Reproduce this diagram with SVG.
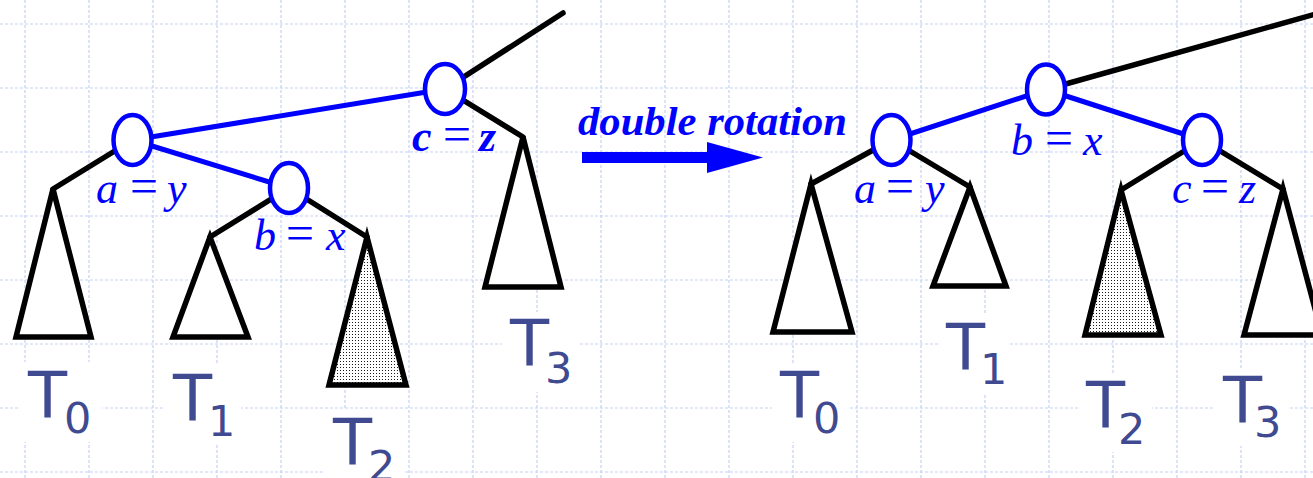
<svg xmlns="http://www.w3.org/2000/svg" width="1313" height="478" viewBox="0 0 1313 478">
<defs>
<pattern id="dots" width="3" height="3" patternUnits="userSpaceOnUse">
<rect width="3" height="3" fill="#ffffff"/>
<rect x="1" y="1" width="1" height="1" fill="#1a1a1a"/>
</pattern>
<style>
.grid line{stroke:#c6d1f6;stroke-width:1.2;stroke-dasharray:3 2}
.blk{stroke:#000;stroke-width:5.5;fill:none;stroke-linecap:round}
.blu{stroke:#0000ff;stroke-width:5;fill:none}
.tri{stroke:#000;stroke-width:5.5;fill:#fff;stroke-linejoin:miter}
.tri2{stroke:#000;stroke-width:5.5;fill:url(#dots);stroke-linejoin:miter}
.node{stroke:#0000ff;stroke-width:4.5;fill:#fff}
.lbl{font-family:"Liberation Serif",serif;font-style:italic;font-size:44px;fill:#0000ff}
.eq{font-style:normal;font-weight:normal;font-size:50px}
.tl{font-family:"DejaVu Sans",sans-serif;font-size:64px;fill:#3f4a90}
.sub{font-size:43px}
.bg{fill:#fff}
</style>
</defs>
<rect width="1313" height="478" fill="#ffffff"/>
<g class="grid">
<line x1="25" y1="0" x2="25" y2="478"/><line x1="89" y1="0" x2="89" y2="478"/><line x1="153" y1="0" x2="153" y2="478"/><line x1="217" y1="0" x2="217" y2="478"/><line x1="281" y1="0" x2="281" y2="478"/><line x1="345" y1="0" x2="345" y2="478"/><line x1="409" y1="0" x2="409" y2="478"/><line x1="473" y1="0" x2="473" y2="478"/><line x1="537" y1="0" x2="537" y2="478"/><line x1="601" y1="0" x2="601" y2="478"/><line x1="665" y1="0" x2="665" y2="478"/><line x1="729" y1="0" x2="729" y2="478"/><line x1="793" y1="0" x2="793" y2="478"/><line x1="857" y1="0" x2="857" y2="478"/><line x1="921" y1="0" x2="921" y2="478"/><line x1="985" y1="0" x2="985" y2="478"/><line x1="1049" y1="0" x2="1049" y2="478"/><line x1="1113" y1="0" x2="1113" y2="478"/><line x1="1177" y1="0" x2="1177" y2="478"/><line x1="1241" y1="0" x2="1241" y2="478"/><line x1="1305" y1="0" x2="1305" y2="478"/>
<line x1="0" y1="24" x2="1313" y2="24"/><line x1="0" y1="88" x2="1313" y2="88"/><line x1="0" y1="152" x2="1313" y2="152"/><line x1="0" y1="216" x2="1313" y2="216"/><line x1="0" y1="280" x2="1313" y2="280"/><line x1="0" y1="344" x2="1313" y2="344"/><line x1="0" y1="408" x2="1313" y2="408"/><line x1="0" y1="472" x2="1313" y2="472"/>
</g>
<g id="label-backgrounds">
<rect class="bg" x="20" y="362" width="82" height="80"/>
<rect class="bg" x="165" y="364" width="76" height="80"/>
<rect class="bg" x="325" y="410" width="80" height="68"/>
<rect class="bg" x="502" y="312" width="76" height="80"/>
<rect class="bg" x="772" y="364" width="76" height="78"/>
<rect class="bg" x="938" y="315" width="72" height="78"/>
<rect class="bg" x="1078" y="374" width="74" height="78"/>
<rect class="bg" x="1215" y="368" width="75" height="78"/>
</g>
<g id="connectors">
<line class="blk" x1="445" y1="89" x2="563" y2="13"/>
<line class="blk" x1="445" y1="89" x2="523" y2="137"/>
<line class="blu" x1="132.5" y1="140" x2="445" y2="89"/>
<line class="blu" x1="132.5" y1="140" x2="289" y2="188"/>
<line class="blk" x1="132.5" y1="140" x2="53" y2="189"/>
<line class="blk" x1="289" y1="188" x2="210" y2="237"/>
<line class="blk" x1="289" y1="188" x2="367" y2="237"/>
<line class="blk" x1="1046" y1="89.5" x2="1330" y2="10"/>
<line class="blu" x1="1046" y1="89.5" x2="891.5" y2="140"/>
<line class="blu" x1="1046" y1="89.5" x2="1202" y2="140"/>
<line class="blk" x1="891.5" y1="140" x2="811" y2="184"/>
<line class="blk" x1="891.5" y1="140" x2="970" y2="187"/>
<line class="blk" x1="1202" y1="140" x2="1121" y2="190"/>
<line class="blk" x1="1202" y1="140" x2="1283" y2="189"/>
</g>
<g id="arrow">
<rect x="582" y="152" width="127" height="11" fill="#0000ff"/>
<polygon points="707,142 763,157.5 707,173" fill="#0000ff"/>
<text x="578" y="135" font-family="Liberation Serif, serif" font-style="italic" font-weight="bold" font-size="41" fill="#0000ff" textLength="269" lengthAdjust="spacingAndGlyphs">double rotation</text>
</g>
<g id="left-T0"><polygon class="tri" points="53,189 16,337 91,337"/><text class="tl" x="28" y="418">T<tspan class="sub" x="64" y="433">0</tspan></text></g>
<g id="left-T1"><polygon class="tri" points="210,237 173,337 248,337"/><text class="tl" x="173" y="421">T<tspan class="sub" x="208" y="436">1</tspan></text></g>
<g id="left-T2"><polygon class="tri2" points="367,237 329,385 406,385"/><text class="tl" x="333" y="465">T<tspan class="sub" x="368" y="481">2</tspan></text></g>
<g id="left-T3"><polygon class="tri" points="523,137 485,287 561,287"/><text class="tl" x="510" y="366">T<tspan class="sub" x="545" y="383">3</tspan></text></g>
<g id="left-a"><ellipse class="node" cx="132.5" cy="140" rx="19" ry="25"/><text class="lbl" x="96 118 130 160 167" y="203">a <tspan class="eq">=</tspan> y</text></g>
<g id="left-b"><ellipse class="node" cx="289" cy="188" rx="19" ry="25"/><text class="lbl" x="254 276 286 316 326" y="250">b <tspan class="eq">=</tspan> x</text></g>
<g id="left-c"><ellipse class="node" cx="445" cy="89" rx="20" ry="25"/><text class="lbl" x="412 432 443 472 479" y="151" font-weight="bold" fill="#2a2af5">c <tspan class="eq" font-weight="bold">=</tspan> z</text></g>
<g id="right-T0"><polygon class="tri" points="811,184 773,332 852,332"/><text class="tl" x="780" y="418">T<tspan class="sub" x="813" y="433">0</tspan></text></g>
<g id="right-T1"><polygon class="tri" points="970,187 933,286 1006,286"/><text class="tl" x="946" y="370">T<tspan class="sub" x="980" y="384">1</tspan></text></g>
<g id="right-T2"><polygon class="tri2" points="1121,190 1085,335 1161,335"/><text class="tl" x="1086" y="428">T<tspan class="sub" x="1118" y="444">2</tspan></text></g>
<g id="right-T3"><polygon class="tri" points="1283,189 1244,335 1322,335"/><text class="tl" x="1223" y="423">T<tspan class="sub" x="1254" y="437">3</tspan></text></g>
<g id="right-a"><ellipse class="node" cx="891.5" cy="140" rx="19" ry="25"/><text class="lbl" x="854 876 886 916 925" y="203">a <tspan class="eq">=</tspan> y</text></g>
<g id="right-b"><ellipse class="node" cx="1046" cy="89.5" rx="19" ry="25"/><text class="lbl" x="1011 1033 1045 1075 1083" y="155">b <tspan class="eq">=</tspan> x</text></g>
<g id="right-c"><ellipse class="node" cx="1202" cy="140" rx="19" ry="25"/><text class="lbl" x="1172 1192 1201 1231 1239" y="203">c <tspan class="eq">=</tspan> z</text></g>
</svg>
